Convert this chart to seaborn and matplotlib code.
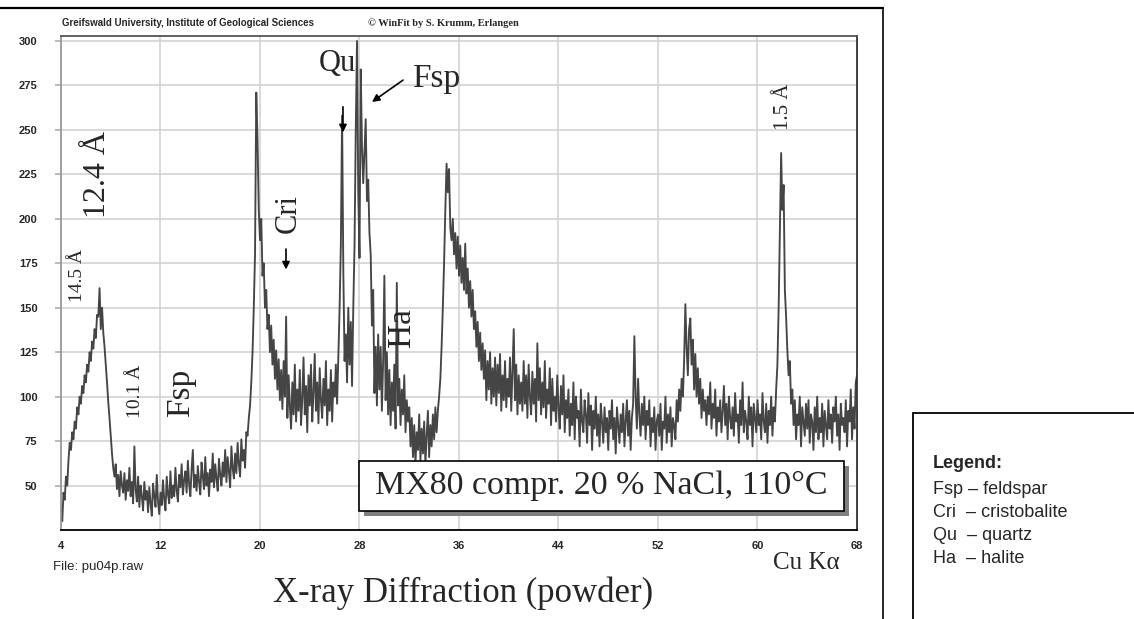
import numpy as np
import pandas as pd
import matplotlib
matplotlib.use('Agg')
import matplotlib.pyplot as plt
from matplotlib.patches import Rectangle
from matplotlib.lines import Line2D
import seaborn as sns

# scan: 4 - 68 deg 2-theta, 0.1 deg step, counts (one row per degree)
scan_start, scan_end = 4.0, 68.0

counts_04_20 = [
    38, 30, 46, 42, 55, 50, 64, 74, 70, 80,          # 4
    76, 86, 82, 94, 90, 100, 96, 106, 102, 112,      # 5
    108, 118, 114, 125, 120, 131, 127, 138, 133, 146,  # 6
    145, 161, 138, 150, 136, 128, 118, 108, 97, 88,  # 7
    78, 68, 60, 55, 62, 48, 56, 44, 58, 50,          # 8
    46, 57, 42, 53, 47, 60, 44, 52, 40, 72,          # 9
    48, 41, 55, 38, 50, 44, 36, 52, 42, 47,          # 10
    35, 49, 40, 33, 51, 44, 38, 56, 41, 34,          # 11
    46, 39, 53, 42, 36, 55, 45, 40, 58, 43,          # 12
    50, 44, 60, 47, 41, 56, 49, 62, 45, 53,          # 13
    58, 46, 64, 51, 44, 59, 70, 49, 56, 47,          # 14
    61, 52, 45, 63, 55, 48, 66, 50, 57, 44,          # 15
    59, 52, 68, 49, 62, 54, 47, 65, 56, 50,          # 16
    63, 55, 70, 52, 66, 58, 49, 72, 60, 54,          # 17
    68, 57, 74, 62, 55, 76, 64, 70, 60, 80,          # 18
    78, 88, 95, 108, 125, 150, 180, 271, 245, 205,   # 19
]
counts_20_36 = [
    188, 200, 168, 175, 150, 160, 138, 146, 125, 140,  # 20
    118, 132, 110, 126, 104, 121, 98, 115, 93, 120,  # 21
    100, 145, 88, 112, 95, 82, 108, 90, 118, 86,     # 22
    104, 92, 115, 84, 99, 122, 90, 106, 80, 112,     # 23
    95, 118, 86, 102, 124, 92, 108, 85, 116, 98,     # 24
    88, 110, 95, 120, 84, 104, 92, 115, 86, 108,     # 25
    100, 118, 96, 122, 150, 185, 258, 170, 120, 135,  # 26
    108, 150, 118, 142, 106, 150, 185, 250, 300, 215,  # 27
    178, 284, 240, 220, 238, 256, 210, 222, 192, 180,  # 28
    140, 160, 102, 128, 95, 135, 104, 128, 92, 120,  # 29
    168, 98, 125, 90, 115, 84, 108, 92, 118, 82,     # 30
    164, 95, 110, 84, 104, 90, 112, 80, 98, 86,      # 31
    94, 72, 88, 66, 84, 62, 80, 70, 90, 64,          # 32
    82, 68, 86, 62, 78, 92, 66, 84, 72, 90,          # 33
    76, 94, 80, 92, 100, 110, 128, 150, 175, 205,    # 34
    231, 215, 228, 195, 188, 200, 180, 192, 172, 190,  # 35
]
counts_36_52 = [
    168, 185, 164, 178, 160, 186, 158, 172, 150, 165,  # 36
    145, 160, 138, 148, 128, 142, 120, 136, 115, 130,  # 37
    110, 126, 98, 120, 104, 125, 96, 116, 100, 122,  # 38
    95, 118, 102, 124, 92, 112, 98, 120, 94, 110,    # 39
    100, 122, 92, 114, 138, 98, 118, 90, 112, 96,    # 40
    108, 92, 120, 96, 112, 88, 118, 100, 90, 114,    # 41
    96, 110, 86, 130, 98, 116, 90, 108, 94, 120,     # 42
    88, 104, 96, 116, 84, 110, 92, 100, 86, 112,     # 43
    94, 82, 106, 90, 112, 80, 98, 88, 104, 78,       # 44
    96, 84, 108, 76, 100, 88, 92, 72, 104, 86,       # 45
    80, 98, 90, 74, 102, 84, 95, 70, 92, 82,         # 46
    100, 78, 90, 72, 96, 86, 74, 94, 80, 88,         # 47
    70, 92, 82, 98, 76, 88, 68, 94, 84, 74,          # 48
    90, 80, 96, 72, 86, 98, 78, 92, 70, 88,          # 49
    96, 134, 100, 82, 110, 90, 78, 96, 84, 100,      # 50
    76, 92, 84, 98, 72, 88, 80, 94, 70, 86,          # 51
]
counts_52_68 = [
    90, 78, 96, 70, 86, 82, 100, 74, 90, 80,         # 52
    94, 72, 88, 84, 76, 98, 86, 104, 92, 110,        # 53
    100, 120, 152, 128, 112, 138, 144, 118, 132, 104,  # 54
    124, 100, 116, 96, 110, 88, 104, 92, 98, 84,     # 55
    100, 90, 108, 82, 96, 88, 104, 78, 94, 86,       # 56
    98, 80, 92, 106, 84, 96, 76, 100, 88, 82,        # 57
    94, 78, 102, 86, 90, 74, 98, 84, 108, 80,        # 58
    92, 86, 76, 100, 84, 94, 72, 96, 88, 80,         # 59
    98, 84, 90, 76, 102, 86, 80, 96, 74, 92,         # 60
    84, 100, 78, 94, 86, 104, 118, 150, 194, 237,    # 61
    205, 219, 160, 145, 126, 112, 120, 96, 104, 84,  # 62
    98, 76, 90, 84, 100, 72, 94, 86, 78, 96,         # 63
    82, 98, 74, 90, 86, 70, 94, 80, 100, 76,         # 64
    88, 80, 96, 72, 92, 84, 76, 98, 82, 90,          # 65
    74, 94, 86, 100, 78, 90, 70, 96, 84, 88,         # 66
    80, 98, 72, 92, 86, 104, 76, 94, 82, 108,        # 67
    112,                                             # 68
]

x_ticks = [4, 12, 20, 28, 36, 44, 52, 60, 68]
y_ticks = [50, 75, 100, 125, 150, 175, 200, 225, 250, 275, 300]

legend_lines = ["Fsp \u2013 feldspar", "Cri  \u2013 cristobalite", "Qu  \u2013 quartz", "Ha  \u2013 halite"]
sample_label = "MX80 compr. 20 % NaCl, 110\u00b0C"

counts = counts_04_20 + counts_20_36 + counts_36_52 + counts_52_68
two_theta = np.linspace(scan_start, scan_end, len(counts))
df = pd.DataFrame({'two_theta': two_theta, 'counts': counts})

sns.set_theme(style='white')
plt.rcParams['font.family'] = ['Liberation Sans', 'DejaVu Sans']
SERIF = ['Liberation Serif', 'DejaVu Serif']

W, H = 1134, 619
fig = plt.figure(figsize=(W / 100, H / 100), dpi=100)
fig.patch.set_facecolor('white')

def fx(px):
    return px / W

def fy(py):
    return 1 - py / H

ax = fig.add_axes([fx(61), fy(530), (857 - 61) / W, (530 - 36) / H])
sns.lineplot(data=df, x='two_theta', y='counts', ax=ax, color='#454545',
             linewidth=1.35, estimator=None)
ax.set_xlim(4, 68)
ax.set_ylim(25, 302.8)
ax.set_xticks(x_ticks)
ax.set_yticks(y_ticks)
ax.set_xlabel('')
ax.set_ylabel('')
ax.grid(True, color='#d0d0d0', linewidth=1.1)
ax.set_axisbelow(True)
ax.tick_params(axis='x', length=0, pad=8, labelsize=8)
ax.tick_params(axis='y', left=True, length=4, color='#b0b0b0', pad=13, labelsize=8)
for lab in ax.get_xticklabels() + ax.get_yticklabels():
    lab.set_fontweight('bold')
ax.spines['left'].set_color('#999999')
ax.spines['top'].set_color('#555555')
ax.spines['right'].set_color('#333333')
ax.spines['bottom'].set_color('black')
for s in ax.spines.values():
    s.set_linewidth(1.3)

# peak labels
ax.text(6.9, 225, '12.4 \u00c5', rotation=90, family=SERIF, size=23, ha='center', va='center')
ax.text(5.3, 168, '14.5 \u00c5', rotation=90, family=SERIF, size=14, ha='center', va='center')
ax.text(9.95, 103, '10.1 \u00c5', rotation=90, family=SERIF, size=14, ha='center', va='center')
ax.text(13.65, 102, 'Fsp', rotation=90, family=SERIF, size=24, ha='center', va='center')
ax.text(22.25, 203, 'Cri', rotation=90, family=SERIF, size=22, ha='center', va='center')
ax.text(31.4, 139, 'Ha', rotation=90, family=SERIF, size=24, ha='center', va='center')
ax.text(62.1, 263, '1.5 \u00c5', rotation=90, family=SERIF, size=15, ha='center', va='center')
ax.text(26.19, 287.6, 'Qu', family=SERIF, size=22, ha='center', va='center')
ax.text(34.15, 279, 'Fsp', family=SERIF, size=24, ha='center', va='center')

arrow = dict(arrowstyle='-|>', color='black', lw=1.2, mutation_scale=11, shrinkA=0, shrinkB=0)
ax.annotate('', xy=(22.09, 171.5), xytext=(22.09, 183), arrowprops=arrow)
ax.annotate('', xy=(26.67, 248.6), xytext=(26.67, 263), arrowprops=arrow)
ax.annotate('', xy=(29.0, 265.7), xytext=(31.5, 278), arrowprops=arrow)

# sample box with shadow
fig.patches.append(Rectangle((fx(364), fy(516)), 485 / W, 50 / H, transform=fig.transFigure,
                             facecolor='#7f7f7f', edgecolor='none', zorder=5))
fig.patches.append(Rectangle((fx(359), fy(511)), 485 / W, 50 / H, transform=fig.transFigure,
                             facecolor='white', edgecolor='black', linewidth=1.2, zorder=6))
fig.text(fx(601.5), fy(486), sample_label, family=SERIF, size=24.5, ha='center', va='center', zorder=7)

# header and footer texts
fig.text(fx(62), fy(23), 'Greifswald University, Institute of Geological Sciences',
         size=7, weight='bold', ha='left', va='center')
fig.text(fx(368), fy(23), '\u00a9 WinFit by S. Krumm, Erlangen', family=SERIF,
         size=7.5, weight='bold', ha='left', va='center')
fig.text(fx(53), fy(567), 'File: pu04p.raw', size=9.5, ha='left', va='center')
fig.text(fx(806), fy(563), 'Cu K\u03b1', family=SERIF, size=18, ha='center', va='center')
fig.text(fx(463), fy(593), 'X-ray Diffraction (powder)', family=SERIF, size=25, ha='center', va='center')

# outer frame lines
fig.lines.append(Line2D([0, fx(883)], [fy(8), fy(8)], transform=fig.transFigure, color='black', lw=1.6))
fig.lines.append(Line2D([fx(883), fx(883)], [fy(8), 0], transform=fig.transFigure, color='black', lw=1.2))

# legend box
fig.patches.append(Rectangle((fx(913), 0 - 0.05), 0.3, fy(413) + 0.05, transform=fig.transFigure,
                             facecolor='white', edgecolor='black', linewidth=1.3))
fig.text(fx(933), fy(463), 'Legend:', size=13, weight='bold', ha='left', va='center')
for i, line in enumerate(legend_lines):
    fig.text(fx(933), fy(489 + 23.3 * i), line, size=13, ha='left', va='center')

fig.savefig('out.png', dpi=100)
